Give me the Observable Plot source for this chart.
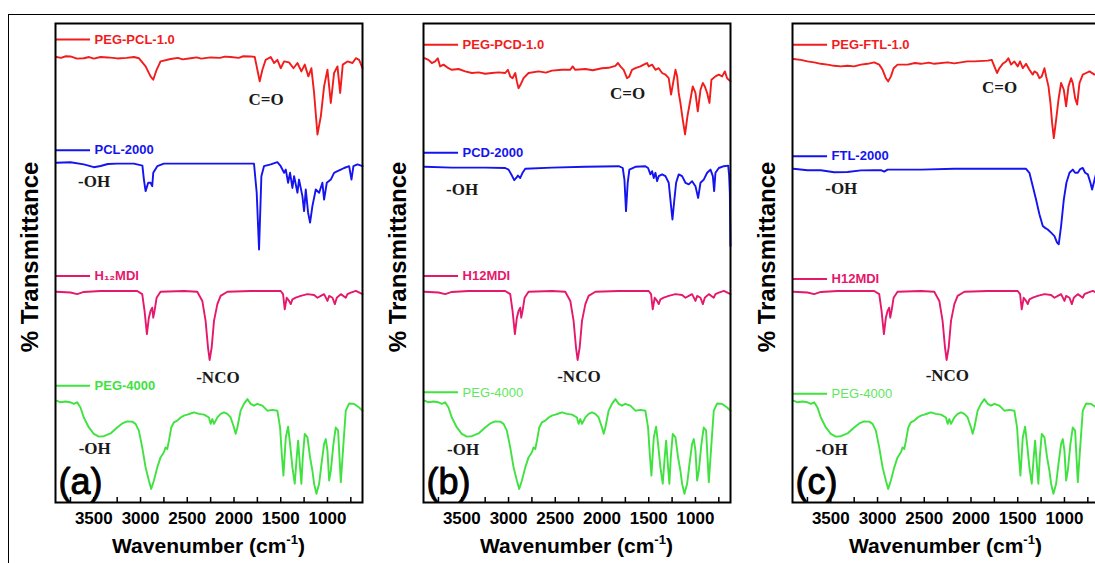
<!DOCTYPE html>
<html><head><meta charset="utf-8">
<script src="https://cdn.jsdelivr.net/npm/d3@7"></script>
<script src="https://cdn.jsdelivr.net/npm/@observablehq/plot@0.6"></script>
<style>
body{margin:0;background:#fff;}
#wrap{position:relative;width:1095px;height:563px;overflow:hidden;background:#fff;}
.panel{position:absolute;top:0;}
.xlab{position:absolute;top:534px;width:307px;line-height:21px;text-align:center;font:bold 21px "Liberation Sans",Arial,sans-serif;color:#000;white-space:nowrap;}
.xlab sup{font-size:13px;vertical-align:9px;line-height:0;}
#border{position:absolute;left:8px;top:14px;width:1200px;height:700px;border-top:1.5px solid #000;border-left:1.5px solid #000;pointer-events:none;z-index:5;}
</style></head><body><div id="wrap"><div id="border"></div></div>
<script>
// ---- spectra: [wavenumber (cm-1), stacked % transmittance] ----
const PEG_PCL_10 = [[3900,111.6],[3850,111.4],[3800,111.8],[3750,111.75],[3680,111.2],[3607,111.3],[3550,111.6],[3500,111.2],[3428,111.6],[3350,111.5],[3250,111.25],[3150,111.4],[3071,111.6],[3018,111.3],[2946,109.25],[2893,106.75],[2864,105.9],[2828,108.4],[2786,110.5],[2678,111.1],[2600,111.4],[2550,111.0],[2464,111.3],[2400,111.5],[2350,111.2],[2250,111.5],[2150,111.4],[2100,111.7],[2036,111.6],[1950,111.4],[1900,111.8],[1821,111.75],[1778,111.6],[1750,108.4],[1725,105.5],[1696,108.4],[1661,110.9],[1607,111.6],[1571,110.1],[1536,110.9],[1500,108.8],[1464,110.5],[1411,110.25],[1364,108.8],[1321,110.1],[1279,108.0],[1243,109.7],[1204,106.75],[1172,108.8],[1143,102.6],[1107,92.2],[1071,96.75],[1036,104.25],[1000,108.4],[964,100.1],[929,107.6],[893,109.25],[864,102.6],[836,109.7],[786,110.5],[732,110.1],[696,111.3],[661,110.9],[625,108.8]];
const PCL_2000 = [[3900,85.1],[3750,85.25],[3607,84.7],[3500,84.0],[3428,84.3],[3350,84.8],[3250,84.9],[3071,84.9],[2980,84.4],[2964,80.9],[2946,78.0],[2918,80.1],[2893,80.1],[2875,79.25],[2864,82.6],[2821,84.25],[2750,84.9],[2400,84.9],[2000,84.9],[1786,84.9],[1757,77.6],[1732,63.4],[1707,81.75],[1679,84.25],[1607,84.7],[1536,85.25],[1500,84.25],[1464,82.6],[1446,83.4],[1421,80.1],[1400,82.6],[1375,78.8],[1357,81.75],[1321,77.6],[1304,80.9],[1268,76.75],[1250,73.0],[1232,78.4],[1207,72.6],[1186,70.1],[1161,74.25],[1125,78.4],[1089,77.6],[1054,80.1],[1036,75.9],[1007,80.1],[964,80.9],[929,82.6],[893,83.0],[857,83.4],[822,83.8],[768,84.25],[743,80.9],[722,84.25],[679,84.7],[625,84.25]];
const PEG_PCD_10 = [[3900,111.3],[3857,110.9],[3821,110.1],[3785,110.5],[3757,111.3],[3732,109.25],[3696,109.7],[3643,108.8],[3607,108.4],[3535,108.6],[3464,108.0],[3393,107.6],[3321,107.75],[3250,107.4],[3178,107.6],[3107,107.75],[3036,107.6],[3007,108.4],[2982,106.75],[2957,106.3],[2928,107.6],[2911,105.5],[2893,103.8],[2871,104.7],[2839,106.3],[2786,107.6],[2678,108.0],[2600,107.7],[2536,108.2],[2428,108.4],[2339,108.4],[2314,109.25],[2286,108.4],[2178,108.6],[2100,108.3],[2000,108.8],[1930,108.9],[1857,109.4],[1829,110.1],[1803,109.25],[1768,108.4],[1732,106.3],[1707,106.75],[1679,108.4],[1643,108.8],[1589,109.25],[1554,109.7],[1518,110.1],[1500,109.25],[1464,109.7],[1428,108.4],[1393,108.8],[1357,107.6],[1321,107.2],[1286,106.3],[1261,102.2],[1239,105.1],[1214,108.4],[1196,106.75],[1179,102.6],[1161,100.1],[1136,95.9],[1111,92.2],[1086,96.75],[1054,100.9],[1029,104.25],[1000,102.6],[975,98.0],[946,103.4],[921,105.1],[900,104.25],[875,102.6],[850,100.1],[829,105.9],[786,106.75],[750,107.2],[714,106.75],[686,108.0],[661,106.3],[625,105.5]];
const PCD_2000 = [[3900,84.1],[3607,83.9],[3250,83.9],[3036,83.8],[3000,83.4],[2964,81.9],[2939,80.75],[2918,81.3],[2900,81.9],[2875,81.3],[2850,82.6],[2821,83.6],[2536,83.9],[2178,84.1],[1821,84.25],[1778,83.8],[1760,80.9],[1743,73.0],[1725,80.1],[1707,83.4],[1643,84.1],[1536,84.25],[1507,83.8],[1482,82.2],[1464,83.0],[1446,81.3],[1428,82.6],[1411,80.5],[1393,81.75],[1357,82.2],[1321,81.75],[1286,80.1],[1261,74.25],[1246,70.9],[1229,75.1],[1207,80.1],[1179,82.2],[1143,81.75],[1107,80.1],[1071,79.7],[1036,80.5],[1000,79.25],[971,76.3],[946,80.1],[911,80.9],[875,82.6],[839,83.4],[814,81.75],[800,78.0],[786,82.6],[750,83.8],[696,84.25],[650,84.4],[640,82.0],[632,77.6],[625,64.25]];
const PEG_FTL_10 = [[3900,111.1],[3821,110.9],[3750,110.5],[3678,110.25],[3607,109.9],[3535,109.7],[3464,109.4],[3393,109.25],[3321,109.4],[3250,109.25],[3178,109.7],[3107,109.9],[3036,110.25],[2982,109.7],[2946,108.4],[2911,106.3],[2886,105.5],[2857,106.75],[2828,108.8],[2786,109.7],[2678,109.7],[2600,110.1],[2536,109.9],[2450,110.2],[2393,109.9],[2250,110.25],[2180,110.0],[2107,110.25],[2040,110.5],[1964,110.5],[1821,110.7],[1778,110.9],[1750,109.25],[1721,107.6],[1696,108.8],[1661,109.9],[1625,110.5],[1600,111.3],[1571,109.7],[1536,110.5],[1500,109.25],[1475,110.5],[1446,108.8],[1411,109.9],[1375,108.4],[1339,107.2],[1321,108.0],[1293,107.6],[1268,106.3],[1243,106.75],[1214,108.8],[1196,106.75],[1171,104.25],[1150,100.1],[1132,95.1],[1114,91.3],[1089,95.9],[1064,100.9],[1036,105.1],[1007,103.4],[982,99.25],[957,104.25],[929,106.3],[911,105.1],[886,101.3],[864,99.7],[839,105.1],[804,107.2],[768,107.6],[732,108.0],[679,107.2],[625,107.5]];
const FTL_2000 = [[3900,83.6],[3750,83.25],[3607,83.25],[3464,82.75],[3321,82.8],[3178,83.2],[3036,83.25],[2964,83.25],[2928,82.9],[2893,83.4],[2536,83.4],[2178,83.6],[1821,83.6],[1464,83.6],[1411,83.6],[1375,82.6],[1339,79.25],[1304,75.9],[1268,72.2],[1232,69.25],[1207,68.8],[1179,68.4],[1143,67.6],[1107,66.75],[1079,65.1],[1061,64.7],[1036,69.25],[1007,75.9],[979,80.1],[946,82.6],[911,83.4],[886,82.6],[857,82.6],[829,83.6],[804,83.8],[779,82.6],[750,82.2],[722,80.1],[704,78.4],[686,80.1],[664,82.2],[625,82.6]];
const H12MDI = [[3900,52.8],[3750,52.6],[3678,52.2],[3607,52.75],[3428,53],[3250,53],[3036,53],[2982,52.2],[2957,48],[2932,42.2],[2911,46.3],[2893,48],[2875,48.8],[2864,46.3],[2850,48],[2828,51.3],[2786,52.8],[2536,53],[2393,52.8],[2339,50.5],[2304,45.5],[2278,38.8],[2261,35.7],[2239,38.8],[2214,45.5],[2178,49.7],[2143,51.75],[2071,52.8],[1821,53],[1500,53],[1475,52.2],[1457,48.4],[1436,51.3],[1411,50.5],[1393,49.7],[1375,50.9],[1339,51.3],[1286,51.75],[1214,52.2],[1143,52],[1107,51.3],[1071,51.75],[1036,52.2],[1000,50.5],[982,51.75],[946,51.3],[921,49.7],[900,51.3],[857,52.2],[804,51.3],[786,52.2],[750,52.6],[696,53],[625,52.2]];
const PEG_4000 = [[3900,25.5],[3857,25.1],[3803,25.3],[3750,25.1],[3714,24.7],[3678,25.1],[3643,23.8],[3607,21.3],[3553,18.8],[3500,17.2],[3446,16.5],[3393,16.6],[3321,17.3],[3250,18.8],[3196,19.8],[3143,20.3],[3089,20.25],[3053,19.7],[3018,18.0],[2982,13.8],[2946,8.8],[2911,5.5],[2886,3.4],[2857,5.5],[2821,8.8],[2786,11.3],[2750,12.6],[2732,13.8],[2714,13.4],[2696,15.5],[2671,18.8],[2643,20.1],[2607,20.5],[2571,21.3],[2536,21.75],[2500,22.0],[2464,22.3],[2428,22.6],[2375,22.2],[2321,22.0],[2268,21.3],[2250,19.7],[2232,20.9],[2214,19.7],[2178,21.3],[2143,22.2],[2107,22.6],[2071,22.2],[2036,21.3],[2000,18.8],[1982,17.2],[1964,18.8],[1929,23.0],[1893,24.7],[1857,25.9],[1821,24.7],[1786,24.25],[1750,24.7],[1696,24.25],[1643,23.0],[1589,23.2],[1536,23.0],[1507,18.8],[1489,12.2],[1471,6.75],[1446,16.3],[1421,19.0],[1400,14.7],[1375,8.8],[1350,4.7],[1329,11.3],[1314,15.5],[1293,8.8],[1279,4.7],[1264,11.3],[1243,17.2],[1214,16.3],[1186,11.3],[1161,8.0],[1143,4.7],[1118,2.2],[1089,4.7],[1064,9.7],[1036,14.7],[1018,15.9],[1000,13.0],[982,5.5],[964,8.0],[936,14.7],[911,18.8],[886,18.0],[857,5.1],[829,14.7],[804,23.0],[768,24.8],[714,24.7],[661,23.8],[625,23.0]];

// ---- axes & labels ----
const xDomain = [3910, 625];
const majorTicks = [3500, 3000, 2500, 2000, 1500, 1000];
const allTicks = [3750, 3500, 3250, 3000, 2750, 2500, 2250, 2000, 1750, 1500, 1250, 1000, 750];
const panelKeys = ["(a)", "(b)", "(c)"];
const panelLefts = [0, 368, 737];
const seriesSets = [
  [PEG_PCL_10, PCL_2000, H12MDI, PEG_4000],
  [PEG_PCD_10, PCD_2000, H12MDI, PEG_4000],
  [PEG_FTL_10, FTL_2000, H12MDI, PEG_4000]
];
const seriesNames = [
  ["PEG-PCL-1.0", "PCL-2000", "H\u2081\u2082MDI", "PEG-4000"],
  ["PEG-PCD-1.0", "PCD-2000", "H12MDI", "PEG-4000"],
  ["PEG-FTL-1.0", "FTL-2000", "H12MDI", "PEG-4000"]
];
const legendYs = [[116, 88.25, 56.75, 29.25], [114.7, 87.6, 56.75, 27.6], [114.7, 86.75, 56, 27.25]];
const seriesColors = ["#f21c1c", "#1414f0", "#e5186c", "#3fe23f"];
const labelColors = [["#f21c1c", "#1414f0", "#e5186c", "#3fe23f"], ["#f21c1c", "#1414f0", "#e5186c", "#5ee85e"], ["#f21c1c", "#1414f0", "#e5186c", "#5ee85e"]];
const labelWeights = [["bold", "bold", "bold", "bold"], ["bold", "bold", "bold", "normal"], ["bold", "bold", "bold", "normal"]];
const notes = [
  [{x: 1657, y: 100.9, t: "C=O"}, {x: 3497, y: 80.5, t: "-OH"}, {x: 2172, y: 31.3, t: "-NCO"}, {x: 3490, y: 13.6, t: "-OH"}],
  [{x: 1727, y: 102.4, t: "C=O"}, {x: 3497, y: 78.5, t: "-OH"}, {x: 2247, y: 31.5, t: "-NCO"}, {x: 3486, y: 13.3, t: "-OH"}],
  [{x: 1694, y: 103.9, t: "C=O"}, {x: 3388, y: 78.75, t: "-OH"}, {x: 2253, y: 31.75, t: "-NCO"}, {x: 3492, y: 13.3, t: "-OH"}]
];
const yLabel = "% Transmittance";
const legendEnd = 3535;

const W = 370, H = 563, mL = 55, mR = 8, mT = 23, mB = 61;
const wrap = document.getElementById("wrap");

panelKeys.forEach((key, p) => {
  const marks = [];
  seriesSets[p].forEach((arr, i) => {
    const rows = arr.map(([w, t]) => ({w, t}));
    marks.push(Plot.line(rows, {x: "w", y: "t", stroke: seriesColors[i], strokeWidth: 1.9, strokeLinejoin: "round"}));
    const lg = [{y: legendYs[p][i], name: seriesNames[p][i]}];
    marks.push(Plot.ruleY(lg, {y: "y", x1: () => xDomain[0], x2: () => legendEnd, stroke: seriesColors[i], strokeWidth: 2}));
    marks.push(Plot.text(lg, {x: () => legendEnd, y: "y", text: "name", dx: 4, textAnchor: "start",
      fill: labelColors[p][i], fontWeight: labelWeights[p][i], fontSize: 13, fontFamily: "Liberation Sans, Arial, sans-serif"}));
  });
  marks.push(Plot.text(notes[p], {x: "x", y: "y", text: "t", fontFamily: "Liberation Serif, Times New Roman, serif",
    fontWeight: "bold", fontSize: 17, fill: "#1a1a1a"}));
  marks.push(Plot.tickX(allTicks, {x: d => d, insetTop: (H - mT - mB) - 5, stroke: "#000", strokeWidth: 1.5}));
  marks.push(Plot.frame({stroke: "#000", strokeWidth: 2}));
  marks.push(Plot.text([yLabel], {text: d => d, frameAnchor: "left", textAnchor: "middle", dx: -25, dy: -6, rotate: -90, fontSize: 24,
    fontWeight: "bold", fill: "#000"}));
  marks.push(Plot.text([key], {text: d => d, frameAnchor: "bottom-left", dx: 3, dy: -9, textAnchor: "start", lineAnchor: "bottom",
    fontSize: 36, fontWeight: "normal", fontFamily: "Liberation Sans, Arial, sans-serif", fill: "#000", stroke: "#000", strokeWidth: 0.9}));

  const svg = Plot.plot({
    width: W, height: H, marginLeft: mL, marginRight: mR, marginTop: mT, marginBottom: mB,
    x: {domain: xDomain, ticks: majorTicks, tickSize: 0, tickPadding: 9, tickFormat: d => String(d), label: null},
    y: {domain: [0, 120], axis: null},
    style: {fontFamily: "Liberation Sans, Arial, sans-serif", fontSize: "17px", fontWeight: "bold", color: "#000", background: "transparent", overflow: "visible"},
    marks
  });
  svg.classList.add("panel");
  svg.style.position = "absolute";
  svg.style.left = panelLefts[p] + "px";
  svg.style.top = "0px";
  wrap.appendChild(svg);

  const xl = document.createElement("div");
  xl.className = "xlab";
  xl.style.left = (panelLefts[p] + mL) + "px";
  xl.innerHTML = "Wavenumber (cm<sup>-1</sup>)";
  wrap.appendChild(xl);
});
</script></body></html>
